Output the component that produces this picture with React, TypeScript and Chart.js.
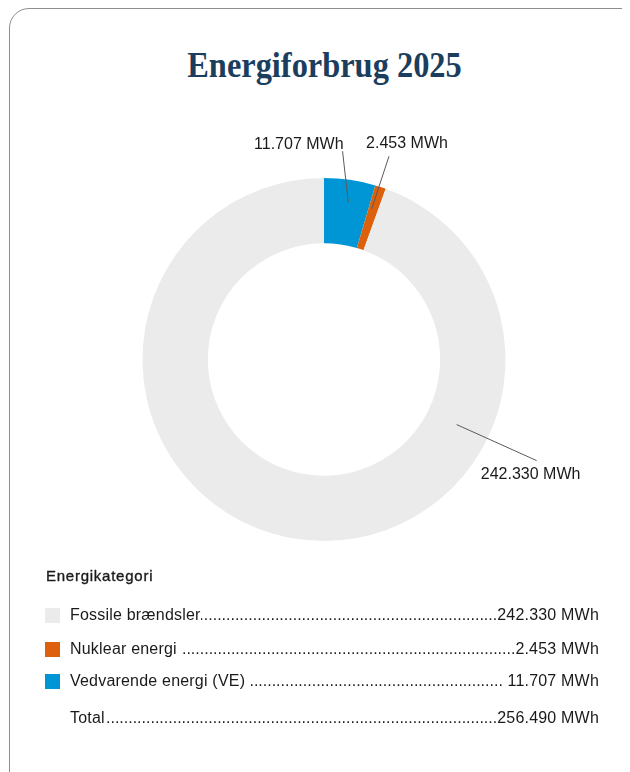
import React, { useEffect, useRef } from "react";
import { Chart, registerables } from "chart.js";

Chart.register(...registerables);

// ---- data (legend order) ----
const categories: string[] = ["Fossile brændsler", "Nuklear energi", "Vedvarende energi (VE)"];
const valuesMWh: number[] = [242330, 2453, 11707];
const colors: string[] = ["#ebebeb", "#dd610d", "#0096d6"];
// order in which the slices run clockwise from 12 o'clock
const chartOrder: number[] = [2, 1, 0];
const unit = "MWh";
const titleText = "Energiforbrug 2025";
const legendTitle = "Energikategori";
const totalLabel = "Total";

// label callout layout, per chart slice (relative to arc geometry)
const labelLayout = [
  { frac: 0.535, r0: 0.876, dAngle: -3.7, r1: 1.152, align: "right", dx: 1, dy: -7 },
  { frac: 0.33, r0: 0.871, dAngle: 0.17, r1: 1.176, align: "center", dx: 18, dy: -13 },
  { frac: 0.283, r0: 0.814, dAngle: -0.7, r1: 1.297, align: "center", dx: -6, dy: 14 },
];

const fmt = (v: number) =>
  String(Math.round(v)).replace(/\B(?=(\d{3})+(?!\d))/g, ".") + " " + unit;

const FONT = "'Liberation Sans', Arial, Helvetica, sans-serif";

const calloutPlugin = {
  id: "callouts",
  afterDatasetsDraw(chart: any) {
    const meta = chart.getDatasetMeta(0);
    const ctx = chart.ctx as CanvasRenderingContext2D;
    const data = chart.data.datasets[0].data as number[];
    ctx.save();
    meta.data.forEach((arc: any, i: number) => {
      const p = arc.getProps(["x", "y", "startAngle", "endAngle", "outerRadius"], true);
      const L = labelLayout[i];
      const a0 = p.startAngle + (p.endAngle - p.startAngle) * L.frac;
      const ax = p.x + Math.cos(a0) * L.r0 * p.outerRadius;
      const ay = p.y + Math.sin(a0) * L.r0 * p.outerRadius;
      const a1 = a0 + (L.dAngle * Math.PI) / 180;
      const ex = p.x + Math.cos(a1) * L.r1 * p.outerRadius;
      const ey = p.y + Math.sin(a1) * L.r1 * p.outerRadius;
      ctx.beginPath();
      ctx.strokeStyle = "#5a5a5a";
      ctx.lineWidth = 1;
      ctx.moveTo(ax, ay);
      ctx.lineTo(ex, ey);
      ctx.stroke();
      ctx.fillStyle = "#1a1a1a";
      ctx.font = `16px ${FONT}`;
      ctx.textAlign = L.align as CanvasTextAlign;
      ctx.textBaseline = "middle";
      ctx.fillText(fmt(data[i]), ex + L.dx, ey + L.dy);
    });
    ctx.restore();
  },
};

function DonutChart() {
  const ref = useRef<HTMLCanvasElement | null>(null);
  useEffect(() => {
    if (!ref.current) return;
    const chart = new Chart(ref.current, {
      type: "doughnut",
      data: {
        labels: chartOrder.map((i) => categories[i]),
        datasets: [
          {
            data: chartOrder.map((i) => valuesMWh[i]),
            backgroundColor: chartOrder.map((i) => colors[i]),
            borderWidth: 0,
            hoverOffset: 0,
          },
        ],
      },
      options: {
        animation: false,
        responsive: false,
        devicePixelRatio: 1,
        cutout: "64%",
        rotation: 0,
        layout: { padding: { top: 78, bottom: 79, left: 0, right: 0 } },
        plugins: {
          legend: { display: false },
          tooltip: { enabled: false },
          title: { display: false },
        },
        events: [],
      },
      plugins: [calloutPlugin],
    });
    return () => chart.destroy();
  }, []);
  return (
    <canvas
      ref={ref}
      width={632}
      height={520}
      style={{ position: "absolute", left: 0, top: 92, width: 632, height: 520 }}
    />
  );
}

function LegendRow({
  top,
  color,
  label,
  value,
}: {
  top: number;
  color: string | null;
  label: string;
  value: string;
}) {
  return (
    <div
      style={{
        position: "absolute",
        left: 37,
        top: top - 10,
        width: 554,
        height: 20,
        lineHeight: "20px",
        display: "flex",
        alignItems: "center",
        font: `16px ${FONT}`,
        color: "#1a1a1a",
        whiteSpace: "pre",
      }}
    >
      <span
        style={{
          width: 15,
          height: 15,
          flex: "0 0 15px",
          background: color || "transparent",
          marginRight: 10,
        }}
      />
      <span style={{ flex: "0 0 auto", letterSpacing: "0.2px" }}>{label}</span>
      <span
        style={{
          flex: "1 1 auto",
          overflow: "hidden",
          whiteSpace: "nowrap",
          direction: "rtl",
        }}
      >
        {".".repeat(200)}
      </span>
      <span style={{ flex: "0 0 auto", letterSpacing: "0.2px" }}>{value}</span>
    </div>
  );
}

export default function App() {
  const total = valuesMWh.reduce((a, b) => a + b, 0);
  const rowTops = [607, 641, 673];
  useEffect(() => {
    document.documentElement.style.overflow = "hidden";
    document.body.style.overflow = "hidden";
  }, []);
  return (
    <div style={{ position: "relative", width: 622, height: 764, overflow: "hidden", background: "#fff" }}>
      <div
        style={{
          position: "absolute",
          left: 1,
          top: 0,
          width: 640,
          height: 790,
          border: "1px solid #8e8e8e",
          borderRadius: 20,
          boxSizing: "border-box",
        }}
      />
      <div
        style={{
          position: "absolute",
          left: 0,
          top: 35,
          width: 633,
          textAlign: "center",
          font: "bold 36px 'Liberation Serif', 'Times New Roman', serif",
          lineHeight: "44px",
          color: "#1b3e5e",
          transform: "scaleX(0.9)",
          transformOrigin: "316.5px 50%",
        }}
      >
        {titleText}
      </div>
      <DonutChart />
      <div
        style={{
          position: "absolute",
          left: 38,
          top: 559,
          height: 20,
          lineHeight: "20px",
          font: `15px ${FONT}`,
          letterSpacing: "0.75px",
          color: "#1a1a1a",
          WebkitTextStroke: "0.35px #1a1a1a",
        }}
      >
        {legendTitle}
      </div>
      {[0, 1, 2].map((i, k) => (
        <LegendRow
          key={i}
          top={rowTops[k]}
          color={colors[i]}
          label={i === 0 ? categories[i] : categories[i] + " "}
          value={i === 2 ? " " + fmt(valuesMWh[i]) : fmt(valuesMWh[i])}
        />
      ))}
      <LegendRow top={710} color={null} label={totalLabel} value={fmt(total)} />
    </div>
  );
}
